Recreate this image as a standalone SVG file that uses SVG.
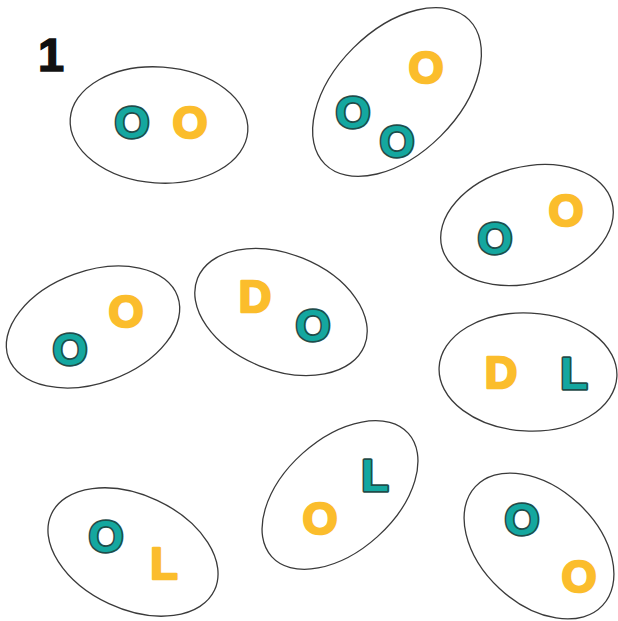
<svg xmlns="http://www.w3.org/2000/svg" width="618" height="621" viewBox="0 0 618 621">
<style>
.cell{fill:none;stroke:#3a3a3a;stroke-width:1.3}
.t{font-family:"Liberation Sans",Arial,sans-serif;font-weight:bold;font-size:45px;text-anchor:middle;paint-order:stroke}
.teal{fill:#14a79f;stroke:#1f4d4b;stroke-width:3.4;stroke-linejoin:round}
.or{fill:#fbbd2c;stroke:#fbbd2c;stroke-width:2.6;stroke-linejoin:round}
.num{font-family:"Liberation Sans",Arial,sans-serif;font-weight:bold;font-size:47px;fill:#111;stroke:#111;stroke-width:1.5;text-anchor:middle}
</style>
<rect width="618" height="621" fill="#fff"/>
<text class="num" x="51" y="71">1</text>
<g id="cell1">
<ellipse class="cell" cx="159" cy="125" rx="89" ry="58" transform="rotate(4 159 125)"/>
<text class="t teal" x="132" y="138">O</text>
<text class="t or" x="190" y="138">O</text>
</g>
<g id="cell2">
<ellipse class="cell" cx="397" cy="92" rx="102" ry="62" transform="rotate(-45 397 92)"/>
<text class="t or" x="426" y="83">O</text>
<text class="t teal" x="353" y="128">O</text>
<text class="t teal" x="397" y="157">O</text>
</g>
<g id="cell3">
<ellipse class="cell" cx="527" cy="225" rx="88" ry="58" transform="rotate(-15 527 225)"/>
<text class="t teal" x="495" y="254">O</text>
<text class="t or" x="566" y="226">O</text>
</g>
<g id="cell4">
<ellipse class="cell" cx="93" cy="327" rx="90" ry="56" transform="rotate(-20 93 327)"/>
<text class="t or" x="126" y="327">O</text>
<text class="t teal" x="70" y="365">O</text>
</g>
<g id="cell5">
<ellipse class="cell" cx="281" cy="312" rx="90" ry="58" transform="rotate(22 281 312)"/>
<text class="t or" x="255" y="312">D</text>
<text class="t teal" x="313" y="341">O</text>
</g>
<g id="cell6">
<ellipse class="cell" cx="528" cy="372" rx="89" ry="59" transform="rotate(3 528 372)"/>
<text class="t or" x="501" y="388">D</text>
<text class="t teal" x="574" y="389">L</text>
</g>
<g id="cell7">
<ellipse class="cell" cx="133" cy="552" rx="90" ry="57" transform="rotate(25 133 552)"/>
<text class="t teal" x="106" y="552">O</text>
<text class="t or" x="164" y="579">L</text>
</g>
<g id="cell8">
<ellipse class="cell" cx="340" cy="495" rx="92" ry="56" transform="rotate(-42 340 495)"/>
<text class="t teal" x="375" y="491">L</text>
<text class="t or" x="320" y="534">O</text>
</g>
<g id="cell9">
<ellipse class="cell" cx="539" cy="546" rx="87" ry="58" transform="rotate(43 539 546)"/>
<text class="t teal" x="522" y="535">O</text>
<text class="t or" x="579" y="592">O</text>
</g>
<g id="connectors"></g>
</svg>
